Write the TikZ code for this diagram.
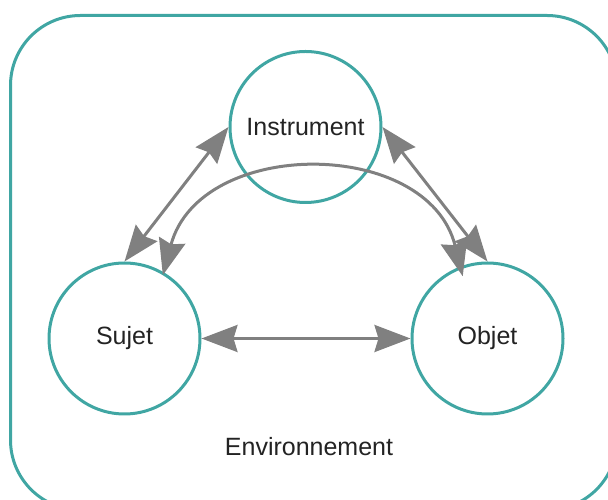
\documentclass[tikz,border=0pt]{standalone}
\usepackage{fontspec}
\setmainfont{Liberation Sans}
\usetikzlibrary{arrows.meta,calc}
\definecolor{teal1}{RGB}{64,166,163}
\definecolor{arrgray}{RGB}{128,128,128}
\definecolor{txt}{RGB}{35,35,35}
\begin{document}
\begin{tikzpicture}[x=1pt,y=1pt,
  entity/.style={circle,draw=teal1,line width=3pt,minimum size=151pt,inner sep=0pt,
    font=\fontsize{25}{30}\selectfont,text=txt},
  link/.style={draw=arrgray,line width=3pt,
    {Stealth[length=36pt,width=27pt,inset=4pt]}-{Stealth[length=36pt,width=27pt,inset=4pt]}}]
\useasboundingbox (0,0) rectangle (608,500);
\clip (0,0) rectangle (608,500);
\draw[teal1,line width=3pt,rounded corners=70pt] (10.5,-10) rectangle (617,484.5);
\node[entity] (I) at (305.5,373) {Instrument};
\node[entity] (S) at (124.5,161.5) {Sujet};
\node[entity] (O) at (487.5,161.5) {Objet};
\node[font=\fontsize{25}{30}\selectfont,text=txt] (E) at (309,53) {Environnement};
\coordinate (c1) at ($(S.center)+(58.8:74)$);
\coordinate (c2) at ($(O.center)+(111.7:67)$);
\draw[link] (S.north) -- (I.west);
\draw[link] (I.east) -- (O.north);
\draw[link] (S.east) -- (O.west);
\draw[link] (c1) to[out=75,in=104,looseness=1.22] (c2);
\end{tikzpicture}
\end{document}
